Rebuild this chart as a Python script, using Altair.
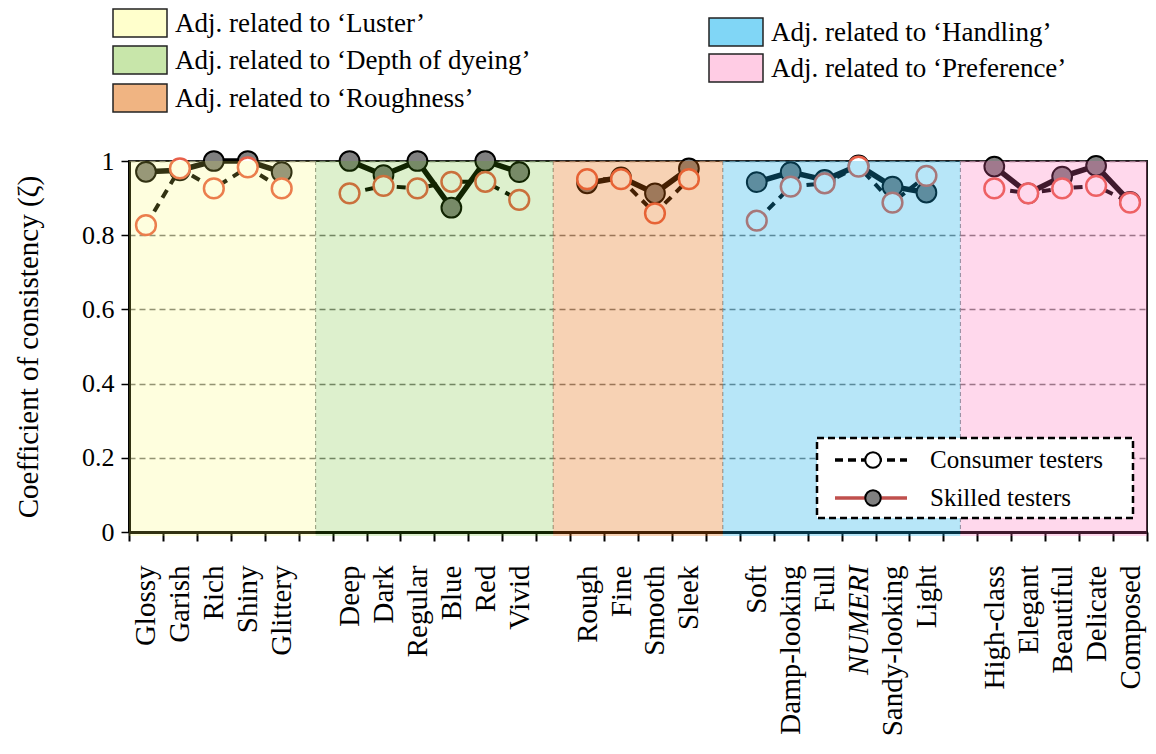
import json
import altair as alt
import pandas as pd

SERIF = "Liberation Serif"
W, H = 1018, 371          # plot area
PAD_L, PAD_T = 129, 161   # plot origin inside the 1156x754 canvas

groups = ["Luster", "Depth of dyeing", "Roughness", "Handling", "Preference"]
words = [
    ["Glossy", "Garish", "Rich", "Shiny", "Glittery"],
    ["Deep", "Dark", "Regular", "Blue", "Red", "Vivid"],
    ["Rough", "Fine", "Smooth", "Sleek"],
    ["Soft", "Damp-looking", "Full", "NUMERI", "Sandy-looking", "Light"],
    ["High-class", "Elegant", "Beautiful", "Delicate", "Composed"],
]
consumer = [
    [0.827, 0.980, 0.926, 0.983, 0.926],
    [0.913, 0.933, 0.926, 0.944, 0.944, 0.895],
    [0.951, 0.951, 0.859, 0.951],
    [0.839, 0.931, 0.940, 0.985, 0.888, 0.960],
    [0.926, 0.913, 0.926, 0.933, 0.888],
]
skilled = [
    [0.971, 0.975, 1.000, 1.000, 0.970],
    [1.000, 0.962, 1.000, 0.874, 1.000, 0.970],
    [0.940, 0.956, 0.913, 0.980],
    [0.943, 0.970, 0.949, 0.988, 0.931, 0.915],
    [0.985, 0.913, 0.958, 0.987, 0.890],
]
swatch_colors = ["#FFFFCC", "#C8E6AA", "#F0B482", "#80D6F6", "#FFCCE4"]
tint_colors = ["#FAFA5A", "#55B405", "#E46905", "#12ACE8", "#FF64B4"]
tint_alpha = [0.2, 0.2, 0.3, 0.3, 0.25]

# one slot per adjective, one empty slot between groups
rows, spans, labels = [], [], []
slot = 0
for gi, g in enumerate(groups):
    first = slot
    for wi, w in enumerate(words[gi]):
        labels.append(w)
        rows.append(dict(group=g, word=w, x=slot + 0.5, series="Consumer testers", value=consumer[gi][wi]))
        rows.append(dict(group=g, word=w, x=slot + 0.5, series="Skilled testers", value=skilled[gi][wi]))
        slot += 1
    last = slot
    is_last = gi == len(groups) - 1
    if not is_last:
        labels.append("")
        slot += 1
    spans.append(dict(group=g,
                      start=first - 0.5 if gi else 0,
                      end=last if is_last else last + 0.5,
                      tint=tint_colors[gi], alpha=tint_alpha[gi]))
n_slots = slot
numeri_slot = labels.index("NUMERI")

df = pd.DataFrame(rows)
span_df = pd.DataFrame(spans)
one = pd.DataFrame({"k": [0]})

x_enc = alt.X(
    "x:Q",
    scale=alt.Scale(domain=[0, n_slots], nice=False, zero=False),
    axis=alt.Axis(
        values=list(range(n_slots + 1)), tickCount=n_slots + 10,
        labelExpr=json.dumps(labels) + "[datum.value] || ''",
        labelOffset=W / n_slots / 2,
        labelAngle=270, labelAlign="right", labelBaseline="middle",
        labelFont=SERIF, labelFontSize=29, labelColor="black", labelPadding=24,
        labelOverlap=False, labelFlush=False, labelBound=False,
        labelFontStyle={"condition": {"test": f"datum.value == {numeri_slot}", "value": "italic"},
                        "value": "normal"},
        tickSize=9, tickWidth=2, tickColor="black",
        domainColor="black", domainWidth=3, grid=False, title=None,
    ),
)
y_enc = alt.Y(
    "value:Q",
    scale=alt.Scale(domain=[0, 1], nice=False),
    title="Coefficient of consistency (ζ)",
    axis=alt.Axis(
        values=[0, 0.2, 0.4, 0.6, 0.8, 1], format="~g",
        labelFont=SERIF, labelFontSize=26, labelColor="black", labelPadding=7,
        tickSize=8, tickWidth=1.5, tickColor="black",
        domainColor="black", domainWidth=3,
        grid=True, gridColor="#7a7a7a", gridDash=[6, 4], gridWidth=1.5,
        titleFont=SERIF, titleFontSize=29, titleFontWeight="normal",
        titleColor="black", titlePadding=38,
    ),
)

cons = alt.Chart(df).transform_filter(alt.datum.series == "Consumer testers")
skil = alt.Chart(df).transform_filter(alt.datum.series == "Skilled testers")

boundaries = alt.Chart(span_df).transform_filter(alt.datum.start > 0).mark_rule(
    color="#8a8a8a", strokeDash=[4, 3], strokeWidth=1
).encode(x="start:Q", y=alt.value(0), y2=alt.value(H))

cons_line = cons.mark_line(color="black", strokeWidth=4, strokeDash=[9, 7]).encode(
    x=x_enc, y=y_enc, detail="group:N")
skil_line = skil.mark_line(color="black", strokeWidth=5.5).encode(
    x="x:Q", y="value:Q", detail="group:N")
skil_pts = skil.mark_point(shape="circle", filled=True, fill="#808080", stroke="black",
                           strokeWidth=2, size=390, opacity=1).encode(x="x:Q", y="value:Q")
cons_pts = cons.mark_point(shape="circle", filled=True, fill="white", stroke="#E8604A",
                           strokeWidth=2.5, size=390, opacity=1).encode(x="x:Q", y="value:Q")

# translucent group backgrounds laid over everything inside the frame
tint = alt.Chart(span_df).mark_rect(y2Offset=4).encode(
    x="start:Q", x2="end:Q", y=alt.value(0), y2=alt.value(H),
    fill=alt.Fill("tint:N", scale=None),
    fillOpacity=alt.FillOpacity("alpha:Q", scale=None),
)

layers = [boundaries, cons_line, skil_line, skil_pts, cons_pts, tint]

# group key above the plot: three entries on the left, two on the right
key_pos = [(113, 9), (113, 46), (113, 84), (709, 18), (709, 54)]
for gi, g in enumerate(groups):
    sx, sy = key_pos[gi]
    layers.append(alt.Chart(one).mark_rect(fill=swatch_colors[gi], stroke="#222222", strokeWidth=1.5).encode(
        x=alt.value(sx - PAD_L), x2=alt.value(sx + 54 - PAD_L),
        y=alt.value(sy - PAD_T), y2=alt.value(sy + 28 - PAD_T)))
    layers.append(alt.Chart(one).mark_text(align="left", baseline="middle", font=SERIF,
                                           fontSize=27, color="black").encode(
        x=alt.value(sx + 62 - PAD_L), y=alt.value(sy + 15 - PAD_T),
        text=alt.value(f"Adj. related to \u2018{g}\u2019")))

# series key inside the plot
bx0, by0, bx1, by1 = 817, 438, 1133, 518
layers.append(alt.Chart(one).mark_rect(fill="white", stroke="black", strokeDash=[7, 4], strokeWidth=2.5).encode(
    x=alt.value(bx0 - PAD_L), x2=alt.value(bx1 - PAD_L),
    y=alt.value(by0 - PAD_T), y2=alt.value(by1 - PAD_T)))
series_keys = [
    ("Consumer testers", 460, "black", [8, 5], "white"),
    ("Skilled testers", 498, "#C0504D", [1, 0], "#808080"),
]
for name, ry, lc, dash, pfill in series_keys:
    layers.append(alt.Chart(one).mark_rule(color=lc, strokeWidth=3.5, strokeDash=dash).encode(
        x=alt.value(835 - PAD_L), x2=alt.value(907 - PAD_L), y=alt.value(ry - PAD_T)))
    layers.append(alt.Chart(one).mark_point(shape="circle", filled=True, fill=pfill, stroke="black",
                                            strokeWidth=2, size=240, opacity=1).encode(
        x=alt.value(873 - PAD_L), y=alt.value(ry - PAD_T)))
    layers.append(alt.Chart(one).mark_text(align="left", baseline="middle", font=SERIF,
                                           fontSize=25, color="black").encode(
        x=alt.value(930 - PAD_L), y=alt.value(ry - PAD_T), text=alt.value(name)))

chart = alt.layer(*layers).properties(
    width=W, height=H,
    autosize=alt.AutoSizeParams(type="none"),
    padding={"left": PAD_L, "top": PAD_T, "right": 1156 - PAD_L - W, "bottom": 754 - PAD_T - H},
    background="white",
).configure_view(stroke="#1a1a1a", strokeWidth=2)

chart.save("out.html", embed_options={"renderer": "svg", "actions": False})
